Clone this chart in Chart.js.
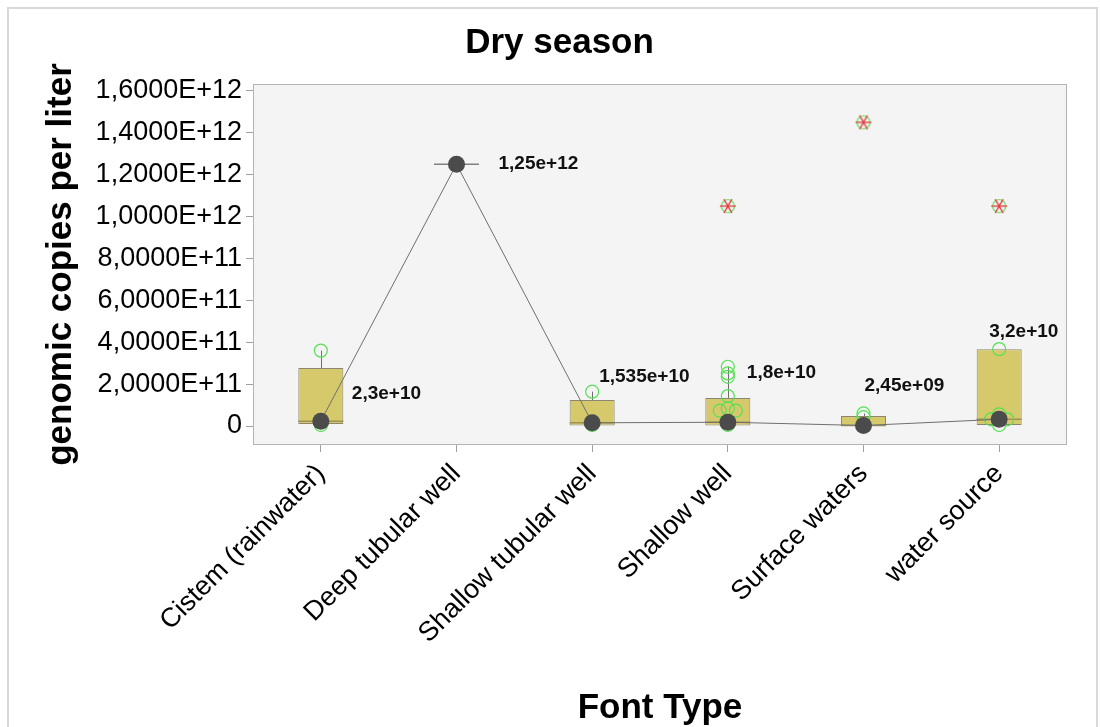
<!DOCTYPE html>
<html>
<head>
<meta charset="utf-8">
<script src="https://cdn.jsdelivr.net/npm/chart.js@4"></script>
<style>
  html, body { margin: 0; padding: 0; background: #ffffff; }
  #wrap { width: 1100px; height: 727px; position: relative; }
</style>
</head>
<body>
<div id="wrap"><canvas id="chart" width="1100" height="727"></canvas></div>
<script>
// Sampling sites (x categories)
const categories = ['Cistem (rainwater)', 'Deep tubular well', 'Shallow tubular well', 'Shallow well', 'Surface waters', 'water source'];

// Box statistics, genomic copies per liter
const q1 = [1.0e10, 1.25e12, 0, 0, 0, 5.0e9];
const medians = [2.3e10, 1.25e12, 1.535e10, 1.8e10, 2.45e9, 3.2e10];
const q3 = [2.77e11, 1.25e12, 1.24e11, 1.34e11, 4.8e10, 3.67e11];
const whiskerHigh = [3.6e11, 1.25e12, 1.64e11, 2.83e11, 6.0e10, 3.67e11];

// Individual sample values per site
const samplesCistern = [5.0e9, 3.6e11];
const samplesDeep = [1.25e12];
const samplesShallowTubular = [5.0e9, 1.64e11];
const samplesShallowWell = [5.0e9, 7.3e10, 7.3e10, 8.4e10, 1.43e11, 2.35e11, 2.51e11, 2.83e11];
const samplesSurface = [4.2e10, 6.0e10];
const samplesSource = [5.0e9, 3.2e10, 3.2e10, 3.2e10, 5.6e10, 3.67e11];
const samples = [samplesCistern, samplesDeep, samplesShallowTubular, samplesShallowWell, samplesSurface, samplesSource];

// Extreme values (asterisks)
const extremes = [null, null, null, 1.05e12, 1.45e12, 1.05e12];

// Y axis tick values
const yTicks = [0, 2e11, 4e11, 6e11, 8e11, 1e12, 1.2e12, 1.4e12, 1.6e12];
const yMin = -9.07e10;
const yMax = 1.633e12;

// Placement of the median value labels (pixel offsets from each median marker)
const labelOffsets = [[31, -27], [42, 0], [7, -46], [19, -49], [1, -40], [-10, -88]];

const FONT = "'Liberation Sans', Arial, Helvetica, sans-serif";
Chart.defaults.font.family = FONT;

function sciTick(v) {
  if (v === 0) return '0';
  const e = Math.floor(Math.log10(Math.abs(v)) + 1e-9);
  const m = v / Math.pow(10, e);
  return m.toFixed(4).replace('.', ',') + 'E+' + e;
}
function sciLabel(v) {
  const parts = v.toExponential().split('e');
  const n = parseInt(parts[1], 10);
  return parts[0].replace('.', ',') + 'e' + (n < 0 ? '-' : '+') + String(Math.abs(n)).padStart(2, '0');
}

// Asterisk marker with ring for extreme values
function makeAsterisk() {
  const c = document.createElement('canvas');
  c.width = 20; c.height = 20;
  const g = c.getContext('2d');
  g.strokeStyle = '#62e062';
  g.lineWidth = 1.2;
  g.beginPath(); g.arc(10, 10, 6.5, 0, Math.PI * 2); g.stroke();
  g.strokeStyle = '#e23b3b';
  g.lineWidth = 1.3;
  for (let k = 0; k < 3; k++) {
    const a = k * Math.PI / 3;
    g.beginPath();
    g.moveTo(10 - 8 * Math.cos(a), 10 - 8 * Math.sin(a));
    g.lineTo(10 + 8 * Math.cos(a), 10 + 8 * Math.sin(a));
    g.stroke();
  }
  return c;
}

function dodgeOffsets(vals, yScale, tol, step) {
  const idx = vals.map((v, i) => i).sort((a, b) => vals[b] - vals[a]);
  const placed = [];
  const off = new Array(vals.length).fill(0);
  for (const i of idx) {
    const py = yScale.getPixelForValue(vals[i]);
    for (const k of [0, -1, 1, -2, 2]) {
      if (!placed.some(p => p.k === k && Math.abs(p.py - py) < tol)) {
        off[i] = k * step; placed.push({ k, py }); break;
      }
    }
  }
  return off;
}

const framePlugin = {
  id: 'frame',
  beforeDraw(chart) {
    const { ctx, chartArea: a } = chart;
    ctx.save();
    ctx.fillStyle = '#ffffff';
    ctx.fillRect(0, 0, chart.width, chart.height);
    ctx.strokeStyle = '#d9d9d9';
    ctx.lineWidth = 2;
    ctx.strokeRect(8, 8, 1089, 760);
    ctx.fillStyle = '#f4f4f4';
    ctx.fillRect(a.left, a.top, a.right - a.left, a.bottom - a.top);
    ctx.strokeStyle = '#b4b4b4';
    ctx.lineWidth = 1;
    ctx.strokeRect(a.left + 0.5, a.top + 0.5, a.right - a.left - 1, a.bottom - a.top - 1);
    // chart heading
    ctx.fillStyle = '#000000';
    ctx.font = 'bold 35px ' + FONT;
    ctx.textAlign = 'center';
    ctx.textBaseline = 'middle';
    ctx.fillText('Dry season', 559.5, 43);
    ctx.restore();
  }
};

const boxPartsPlugin = {
  id: 'boxParts',
  afterDatasetDraw(chart, args) {
    if (args.index !== 0) return;
    const { ctx } = chart;
    const xs = chart.scales.x, ys = chart.scales.y;
    const meta = chart.getDatasetMeta(0);
    ctx.save();
    categories.forEach((c, i) => {
      const bar = meta.data[i];
      const half = bar.width / 2;
      const cx = xs.getPixelForValue(i);
      // whisker
      ctx.strokeStyle = '#6e6e6e';
      ctx.lineWidth = 1;
      if (whiskerHigh[i] > q3[i]) {
        ctx.beginPath();
        ctx.moveTo(Math.round(cx) + 0.5, ys.getPixelForValue(q3[i]));
        ctx.lineTo(Math.round(cx) + 0.5, ys.getPixelForValue(whiskerHigh[i]));
        ctx.stroke();
      }
      // median line across the box
      const my = ys.getPixelForValue(medians[i]);
      ctx.strokeStyle = q3[i] > q1[i] ? '#9c9257' : '#808080';
      ctx.lineWidth = 1.5;
      ctx.beginPath();
      ctx.moveTo(cx - half, my);
      ctx.lineTo(cx + half, my);
      ctx.stroke();
      // individual samples
      const offs = dodgeOffsets(samples[i], ys, 3, 8);
      ctx.strokeStyle = '#55e055';
      ctx.lineWidth = 1.2;
      samples[i].forEach((v, j) => {
        ctx.beginPath();
        ctx.arc(cx + offs[j], ys.getPixelForValue(v), 6.5, 0, Math.PI * 2);
        ctx.stroke();
      });
    });
    ctx.restore();
  },
  afterDatasetsDraw(chart) {
    const { ctx } = chart;
    const xs = chart.scales.x, ys = chart.scales.y;
    ctx.save();
    ctx.fillStyle = '#111111';
    ctx.font = 'bold 19px ' + FONT;
    ctx.textAlign = 'left';
    ctx.textBaseline = 'middle';
    medians.forEach((m, i) => {
      const px = xs.getPixelForValue(i) + labelOffsets[i][0];
      const py = ys.getPixelForValue(m) + labelOffsets[i][1];
      ctx.fillText(sciLabel(m), px, py);
    });
    ctx.restore();
  }
};

new Chart(document.getElementById('chart'), {
  type: 'bar',
  data: {
    labels: categories,
    datasets: [
      {
        type: 'bar',
        label: 'IQR',
        data: categories.map((c, i) => [q1[i], q3[i]]),
        backgroundColor: '#d6c96b',
        borderColor: '#8a8670',
        borderWidth: 1,
        borderSkipped: false,
        barPercentage: 1,
        categoryPercentage: 0.332,
        order: 3
      },
      {
        type: 'line',
        label: 'Extremes',
        data: extremes,
        showLine: false,
        pointStyle: makeAsterisk(),
        pointRadius: 8,
        order: 2
      },
      {
        type: 'line',
        label: 'Median',
        data: medians,
        borderColor: '#707070',
        borderWidth: 1,
        tension: 0,
        pointRadius: 8.5,
        pointBackgroundColor: '#4b4b4b',
        pointBorderColor: '#4b4b4b',
        pointBorderWidth: 0,
        order: 1
      }
    ]
  },
  options: {
    responsive: false,
    animation: false,
    devicePixelRatio: 1,
    layout: { padding: { left: 40, right: 33, top: 84, bottom: 0 } },
    plugins: {
      legend: { display: false },
      tooltip: { enabled: false },
      title: { display: false }
    },
    scales: {
      x: {
        type: 'category',
        offset: true,
        grid: { offset: false, drawOnChartArea: false, drawTicks: true, tickLength: 7, color: '#a0a0a0' },
        border: { display: false },
        ticks: {
          autoSkip: false,
          minRotation: 45,
          maxRotation: 45,
          color: '#000000',
          font: { size: 27 },
          padding: 6
        },
        title: {
          display: true,
          text: 'Font Type',
          color: '#000000',
          font: { size: 35, weight: 'bold' },
          padding: { top: 0, bottom: -2 }
        },
        afterFit(scale) { scale.height = 282; }
      },
      y: {
        type: 'linear',
        min: yMin,
        max: yMax,
        grid: { drawOnChartArea: false, drawTicks: true, tickLength: 7, color: '#a0a0a0' },
        border: { display: false },
        afterBuildTicks(scale) { scale.ticks = yTicks.map(v => ({ value: v })); },
        ticks: {
          color: '#000000',
          font: { size: 27 },
          padding: 4,
          callback: (v) => sciTick(v)
        },
        title: {
          display: true,
          text: 'genomic copies per liter',
          color: '#000000',
          font: { size: 35, weight: 'bold' },
          padding: 0
        },
        afterFit(scale) { scale.width = 213; }
      }
    }
  },
  plugins: [framePlugin, boxPartsPlugin]
});
</script>
</body>
</html>
